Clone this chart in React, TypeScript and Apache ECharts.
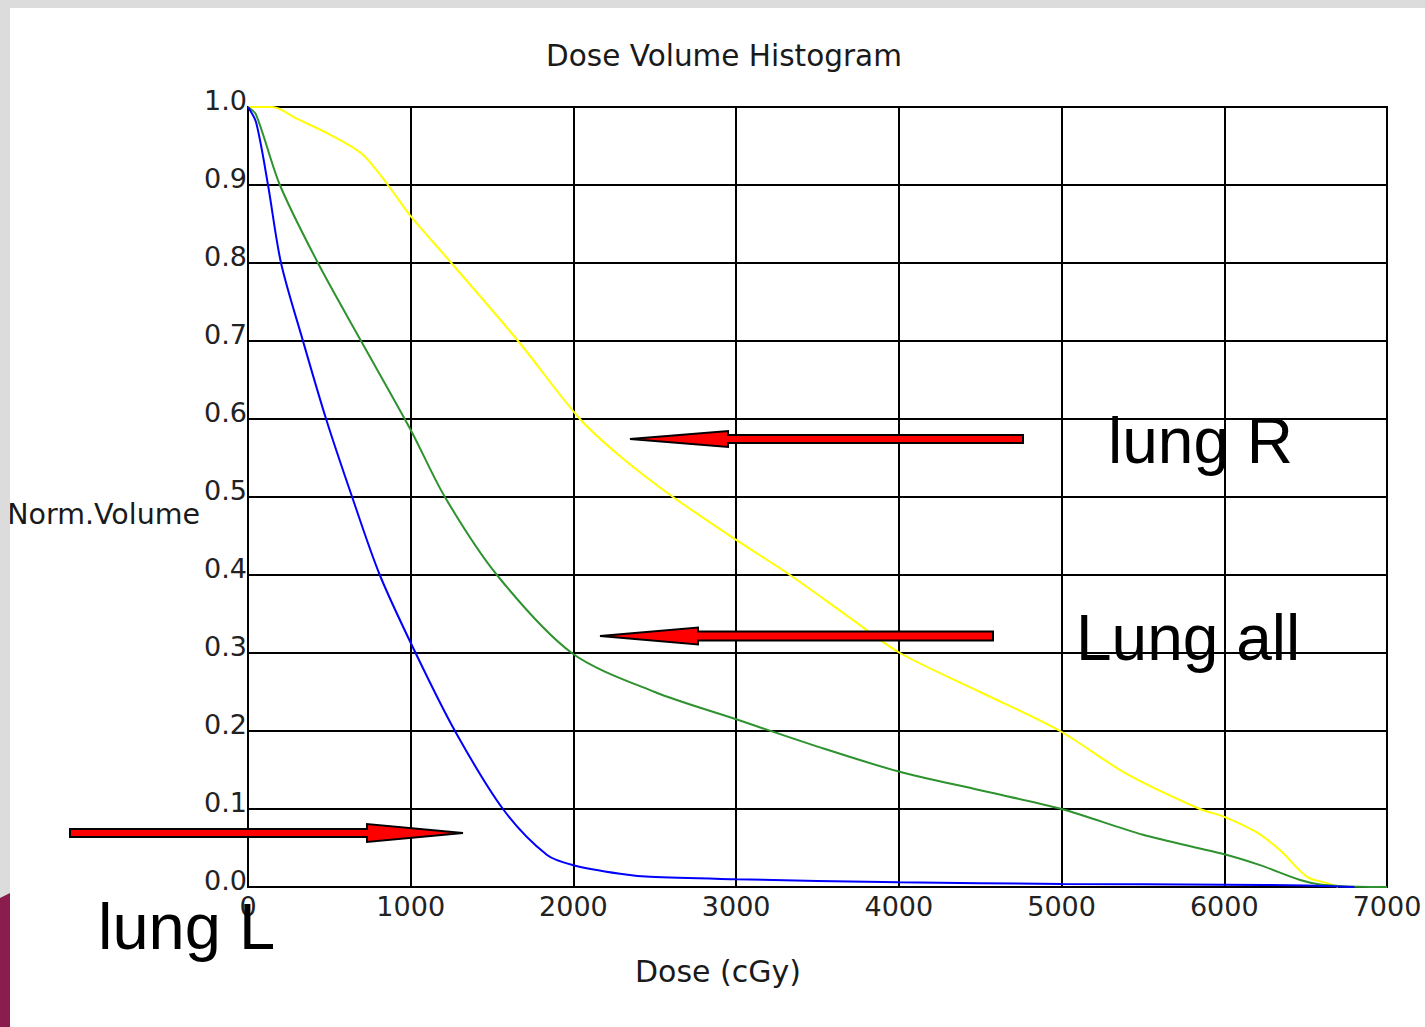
import React, { useEffect, useRef } from "react";
import * as echarts from "echarts";

// ---- data ----
const xTicks = [0, 1000, 2000, 3000, 4000, 5000, 6000, 7000];
const yTicks = [0, 0.1, 0.2, 0.3, 0.4, 0.5, 0.6, 0.7, 0.8, 0.9, 1.0];

const lungRDose = [0, 150, 300, 500, 700, 860, 1000, 1250, 1660, 2040, 2300, 2612, 3000, 3331, 3700, 4007, 4500, 4990, 5400, 5850, 6000, 6200, 6343, 6509, 6632, 6700];
const lungRVol = [1.0, 1.0, 0.985, 0.965, 0.94, 0.9, 0.86, 0.8, 0.7, 0.6, 0.55, 0.5, 0.445, 0.4, 0.345, 0.3, 0.25, 0.2, 0.145, 0.1, 0.09, 0.07, 0.047, 0.013, 0.005, 0.0];

const lungAllDose = [0, 50, 196, 430, 695, 1000, 1210, 1530, 1990, 2500, 3000, 3500, 4000, 4500, 5000, 5500, 6000, 6220, 6466, 6600, 6900, 7000];
const lungAllVol = [1.0, 0.99, 0.9, 0.8, 0.7, 0.586, 0.5, 0.4, 0.3, 0.25, 0.215, 0.18, 0.148, 0.124, 0.1, 0.067, 0.042, 0.028, 0.009, 0.003, 0.0, 0.0];

const lungLDose = [0, 50, 123, 203, 338, 480, 640, 810, 1030, 1272, 1567, 1838, 2000, 2286, 2470, 3000, 4000, 5000, 6000, 6500, 6800];
const lungLVol = [1.0, 0.98, 0.9, 0.8, 0.7, 0.6, 0.5, 0.4, 0.3, 0.2, 0.1, 0.041, 0.028, 0.017, 0.013, 0.01, 0.006, 0.004, 0.003, 0.002, 0.0];

const titleText = "Dose Volume Histogram";
const xName = "Dose (cGy)";
const yName = "Norm.Volume";
const labelR = "lung R";
const labelAll = "Lung all";
const labelL = "lung L";

const pairs = (xs: number[], ys: number[]) => xs.map((x, i) => [x, ys[i]]);

const FONT = "DejaVu Sans";
const BIG = "Liberation Sans";

function arrowLeft(tail: number, headBase: number, tip: number, cy: number, shaftHalf: number, headHalf: number) {
  return [
    [tail, cy - shaftHalf],
    [headBase, cy - shaftHalf],
    [headBase, cy - headHalf],
    [tip, cy],
    [headBase, cy + headHalf],
    [headBase, cy + shaftHalf],
    [tail, cy + shaftHalf],
  ];
}

export default function App() {
  const ref = useRef<HTMLDivElement>(null);
  useEffect(() => {
    if (!ref.current) return;
    const chart = echarts.init(ref.current, undefined, { renderer: "svg" });
    const arrowStyle = { fill: "#ff0000", stroke: "#000", lineWidth: 2 };
    const lineSeries = (name: string, xs: number[], ys: number[], color: string, z: number) => ({
      name,
      type: "line",
      data: pairs(xs, ys),
      showSymbol: false,
      smooth: 0.3,
      lineStyle: { color, width: 2 },
      itemStyle: { color },
      z,
    });
    chart.setOption({
      animation: false,
      backgroundColor: "#ffffff",
      title: {
        text: titleText,
        left: 719,
        top: 36,
        textAlign: "center",
        textStyle: { fontFamily: FONT, fontSize: 29.5, fontWeight: "normal", color: "#1a1a1a" },
      },
      grid: { left: 248, top: 107, width: 1139, height: 780, show: true, borderColor: "#000", borderWidth: 2, backgroundColor: "transparent" },
      xAxis: {
        type: "value",
        min: 0,
        max: 7000,
        interval: 1000,
        axisLine: { show: true, lineStyle: { color: "#000", width: 2 } },
        axisTick: { show: false },
        splitLine: { show: true, lineStyle: { color: "#000", width: 2 } },
        axisLabel: {
          margin: 6,
          fontFamily: FONT,
          fontSize: 27,
          color: "#222",
          showMinLabel: true,
          showMaxLabel: true,
          formatter: (v: number) => (xTicks.includes(v) ? String(v) : ""),
        },
      },
      yAxis: {
        type: "value",
        min: 0,
        max: 1,
        interval: 0.1,
        axisLine: { show: true, lineStyle: { color: "#000", width: 2 } },
        axisTick: { show: false },
        splitLine: { show: true, lineStyle: { color: "#000", width: 2 } },
        axisLabel: {
          margin: 1,
          fontFamily: FONT,
          fontSize: 27,
          color: "#222",
          verticalAlign: "bottom",
          lineHeight: 13,
          formatter: (v: number) => {
            const t = yTicks.find((y) => Math.abs(y - v) < 1e-6);
            return t === undefined ? "" : t.toFixed(1);
          },
        },
      },
      series: [
        lineSeries(labelR, lungRDose, lungRVol, "#ffff00", 3),
        lineSeries(labelAll, lungAllDose, lungAllVol, "#2e922e", 4),
        lineSeries(labelL, lungLDose, lungLVol, "#0000ff", 5),
      ],
      graphic: [
        { type: "rect", shape: { x: 0, y: 0, width: 1425, height: 8 }, style: { fill: "#dcdcdc" }, z: 100 },
        { type: "rect", shape: { x: 0, y: 0, width: 10, height: 1027 }, style: { fill: "#dcdcdc" }, z: 100 },
        { type: "polygon", shape: { points: [[0, 898], [10, 893], [10, 1027], [0, 1027]] }, style: { fill: "#8a1c4e" }, z: 101 },
        {
          type: "text",
          x: 200,
          y: 514,
          style: { text: yName, fontFamily: FONT, fontSize: 28.5, fill: "#1a1a1a", align: "right", verticalAlign: "middle" },
          z: 50,
        },
        {
          type: "text",
          x: 718,
          y: 971,
          style: { text: xName, fontFamily: FONT, fontSize: 30, fill: "#1a1a1a", align: "center", verticalAlign: "middle" },
          z: 50,
        },
        { type: "polygon", shape: { points: arrowLeft(1023, 728, 630, 439, 4, 8) }, style: arrowStyle, z: 60 },
        { type: "polygon", shape: { points: arrowLeft(993, 698, 600, 636, 4.5, 8.5) }, style: arrowStyle, z: 60 },
        { type: "polygon", shape: { points: arrowLeft(70, 367, 463, 833, 4, 9) }, style: arrowStyle, z: 60 },
        {
          type: "text",
          x: 1108,
          y: 441,
          style: { text: labelR, fontFamily: BIG, fontSize: 64, fill: "#000", align: "left", verticalAlign: "middle" },
          z: 70,
        },
        {
          type: "text",
          x: 1076,
          y: 638,
          style: { text: labelAll, fontFamily: BIG, fontSize: 64, fill: "#000", align: "left", verticalAlign: "middle" },
          z: 70,
        },
        {
          type: "text",
          x: 98,
          y: 926,
          style: { text: labelL, fontFamily: BIG, fontSize: 65, fill: "#000", align: "left", verticalAlign: "middle" },
          z: 70,
        },
      ],
    });
    return () => chart.dispose();
  }, []);
  return <div ref={ref} style={{ position: "absolute", left: 0, top: 0, width: 1425, height: 1027 }} />;
}
